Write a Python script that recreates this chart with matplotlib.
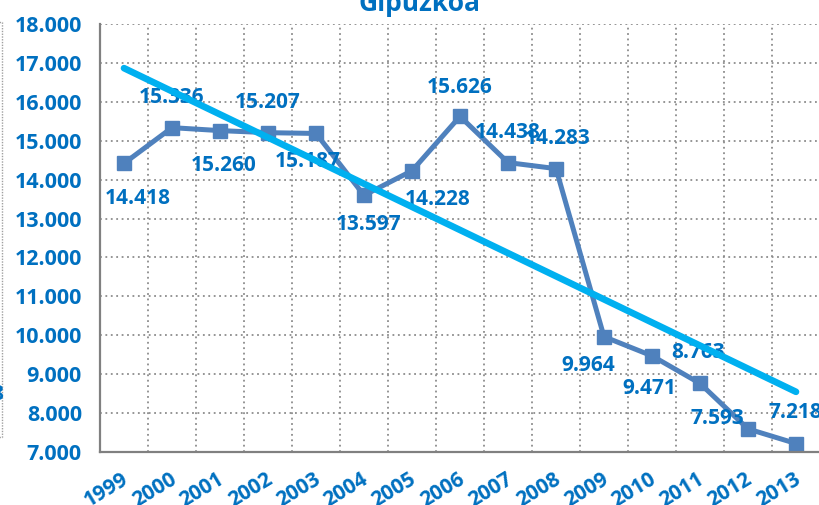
import matplotlib
matplotlib.use('Agg')
import matplotlib.pyplot as plt
from matplotlib.patches import Rectangle
from matplotlib.ticker import FuncFormatter, MultipleLocator
from matplotlib.transforms import ScaledTranslation
import numpy as np

# data
years = ['1999', '2000', '2001', '2002', '2003', '2004', '2005', '2006',
         '2007', '2008', '2009', '2010', '2011', '2012', '2013']
values = [14418, 15336, 15260, 15207, 15187, 13597, 14228, 15626,
          14438, 14283, 9964, 9471, 8763, 7593, 7218]
title = 'Gipuzkoa'

# label offsets in pixels (dx, dy), picked by eye
label_offsets = [(14, -35), (0, 30), (4, -35), (0, 30), (-8, -28), (5, -29),
                 (26, -29), (0, 29), (0, 30), (2, 30), (-16, -29), (-3, -33),
                 (-2, 31), (-31, 10), (-1, 31)]

TEXT_BLUE = '#0070C0'
LINE_BLUE = '#4F81BD'
TREND_CYAN = '#00B0F0'
GRID_GREY = '#8C8C8C'

plt.rcParams['font.family'] = ['Open Sans', 'DejaVu Sans']
plt.rcParams['font.weight'] = 'bold'

W, H = 820, 505
fig = plt.figure(figsize=(W / 100, H / 100), dpi=100)
ax = fig.add_axes([100 / W, 1 - 452 / H, 720 / W, (452 - 24) / H])

x = np.arange(len(years))
ax.plot(x, values, color=LINE_BLUE, lw=3.6, marker='s', markersize=9.5,
        zorder=2, solid_joinstyle='miter')

# linear trend line
slope, intercept = np.polyfit(x, values, 1)
ax.plot(x[[0, -1]], slope * x[[0, -1]] + intercept, color=TREND_CYAN, lw=4.8,
        solid_capstyle='round', zorder=4)

def fmt(v):
    return f'{int(v):,}'.replace(',', '.')

for xi, v, (dx, dy) in zip(x, values, label_offsets):
    ax.annotate(fmt(v), (xi, v), xytext=(dx, dy), textcoords='offset pixels',
                ha='center', va='center', fontsize=15, fontweight='bold',
                color=TEXT_BLUE, zorder=3, annotation_clip=False)

ax.set_xlim(-0.5, len(years) - 0.5)
ax.set_ylim(7000, 18000)
ax.yaxis.set_major_locator(MultipleLocator(1000))
ax.yaxis.set_major_formatter(FuncFormatter(lambda v, p: fmt(v)))

# vertical gridlines sit between the categories
ax.set_xticks(x)
ax.set_xticks(x[:-1] + 0.5, minor=True)
ax.set_xticklabels(years)
ax.grid(axis='y', which='major', color=GRID_GREY, linestyle=(0, (1, 2)), lw=1.3)
ax.grid(axis='x', which='minor', color=GRID_GREY, linestyle=(0, (1, 2)), lw=1.3)
ax.set_axisbelow(True)

ax.tick_params(axis='both', which='both', length=0)
ax.tick_params(axis='y', pad=13, labelsize=15.5, labelcolor=TEXT_BLUE)
ax.tick_params(axis='x', pad=25, labelsize=15, labelcolor=TEXT_BLUE)
shift = ScaledTranslation(8 / 100, 0, fig.dpi_scale_trans)
for lbl in ax.get_xticklabels():
    lbl.set_rotation(31)
    lbl.set_ha('right')
    lbl.set_va('bottom')
    lbl.set_rotation_mode('anchor')
    lbl.set_fontweight('bold')
    lbl.set_transform(lbl.get_transform() + shift)
for lbl in ax.get_yticklabels():
    lbl.set_fontweight('bold')

for side in ['top', 'right']:
    ax.spines[side].set_visible(False)
for side in ['left', 'bottom']:
    ax.spines[side].set_color('#808080')
    ax.spines[side].set_linewidth(1.6)

fig.text(420 / W, 1 - 11 / H, title, ha='center', va='baseline',
         fontsize=19, fontweight='bold', color=TEXT_BLUE)

# edge of the neighbouring box, cut off at the left border
fig.add_artist(Rectangle((-60 / W, 1 - 437 / H), 62 / W, 415 / H,
                         transform=fig.transFigure, fill=False,
                         edgecolor='#A0A0A0', lw=1, linestyle=(0, (1, 1))))
fig.text(3 / W, 1 - 395 / H, '8', ha='right', va='center', fontsize=15,
         fontweight='bold', color=TEXT_BLUE)

fig.savefig('out.png', dpi=100)
plt.close(fig)
